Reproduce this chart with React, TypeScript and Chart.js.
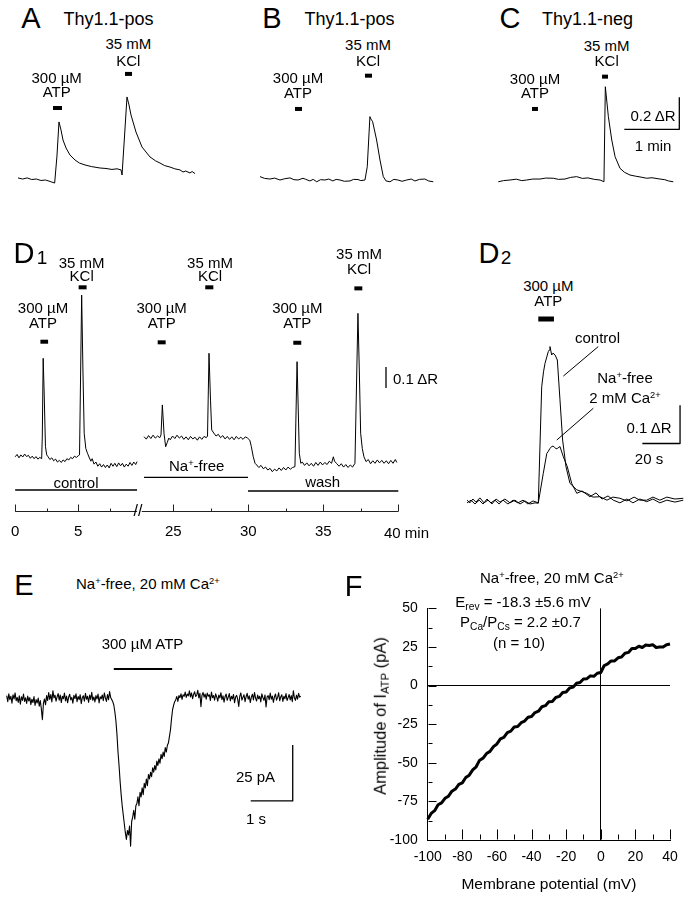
import React, { useEffect, useRef } from "react";
import { Chart, registerables } from "chart.js";
Chart.register(...registerables);

const FONT = "'Liberation Sans', Arial, Helvetica, sans-serif";
Chart.defaults.font.family = FONT;
Chart.defaults.color = "#000";

type P = [number, number];
type Stim = [number, number, number]; // start, end, level

// ---------------- Panel A/B/C (time s, ΔR) ----------------
const traceA: P[] = [[0,0.013],[5,0.006],[10,0.013],[15,0.003],[20,0.006],[25,-0.003],[30,0.0],[35,-0.009],[40,-0.019],[42.5,0.15],[44.7,0.363],[46.9,0.313],[49.1,0.25],[52.4,0.2],[56.7,0.156],[62.2,0.125],[67,0.106],[73.1,0.094],[80,0.084],[89.5,0.075],[96,0.072],[102.5,0.066],[108,0.07],[112.4,0.063],[113.5,0.031],[116.5,0.3],[118.9,0.519],[121.1,0.469],[123.3,0.406],[128.7,0.3],[135.3,0.206],[144,0.144],[150,0.12],[154.9,0.106],[160,0.09],[165.8,0.081],[171,0.07],[176.7,0.063],[180,0.05],[183,0.056],[187.6,0.044],[190,0.053],[193.1,0.04]];
const atpA: Stim = [38.2, 48.0, 0.45];
const kclA: Stim = [116.7, 124.4, 0.663];

const traceB: P[] = [[0,0.021],[5,0.01],[10.9,0.006],[16,0.012],[21.8,0],[27,0.008],[32.7,0.013],[37,0.002],[41.5,0],[46.9,0.011],[50,0.004],[54.5,-0.006],[58,0.004],[61.9,-0.011],[66,0.002],[70.9,0],[75,0.006],[79.6,-0.006],[83,0.004],[87.3,0],[92,-0.008],[98.2,-0.006],[102,0.004],[106.9,0.003],[110,-0.004],[114.5,0],[117,0.083],[119.9,0.396],[121,0.381],[122.9,0.364],[127.2,0.25],[130.9,0.125],[134.5,0.021],[137.5,-0.006],[141.8,-0.011],[146,0.004],[150.5,0],[155,-0.008],[160,0],[165,0.006],[169,-0.006],[174,0.004],[179.9,0.006],[184,-0.006],[189,-0.011]];
const atpB: Stim = [38.2, 45.8, 0.444];
const kclB: Stim = [114.5, 122.2, 0.652];

const traceC: P[] = [[0.3,-0.011],[6,-0.004],[13.1,0],[20,0.005],[26,-0.004],[31.3,0],[38,0.006],[45.8,0.006],[52,0.012],[60.3,0.011],[66,0.004],[73.1,0.006],[79,0.016],[85.8,0.021],[92,0.01],[98.2,0.013],[105,0.004],[111.3,0],[115.6,-0.011],[117.1,0.583],[120.4,0.396],[124.1,0.25],[127.7,0.146],[133.1,0.073],[138,0.048],[144,0.031],[150,0.024],[156,0.018],[162.2,0.011],[168,0.014],[176.7,0.006],[182,0.002],[186,-0.006],[191.2,-0.011]];
const atpC: Stim = [37.1, 43.6, 0.444];
const kclC: Stim = [113.5, 120.0, 0.646];
const scaleBarC: P[] = [[137.8, 0.317], [197.8, 0.317], [197.8, 0.517]]; // 1 min, 0.2 ΔR

// ---------------- Panel D1 (time min, ΔR) ----------------
const traceD1Control: P[] = [[0,0.001],[0.15,0.012],[0.3,-0.004],[0.45,0.01],[0.6,0.0],[0.75,0.014],[0.9,0.002],[1.05,0.008],[1.2,-0.006],[1.35,0.004],[1.5,-0.008],[1.65,0.002],[1.8,-0.01],[1.95,-0.002],[2.1,-0.008],[2.15,0.1],[2.22,0.47],[2.3,0.3],[2.4,0.049],[2.5,0.01],[2.61,0.001],[2.75,-0.012],[2.9,-0.004],[3.05,-0.018],[3.2,-0.01],[3.35,-0.024],[3.5,-0.016],[3.65,-0.026],[3.8,-0.014],[3.95,-0.022],[4.1,-0.008],[4.25,-0.014],[4.4,-0.002],[4.55,-0.008],[4.7,0.004],[4.85,-0.002],[5.0,0.006],[5.1,0.01],[5.27,0.771],[5.37,0.414],[5.47,0.113],[5.6,0.04],[5.73,0.018],[5.85,0.0],[6.0,-0.02],[6.1,-0.008],[6.25,-0.034],[6.4,-0.024],[6.55,-0.044],[6.7,-0.032],[6.85,-0.048],[7.0,-0.036],[7.15,-0.05],[7.3,-0.038],[7.45,-0.052],[7.6,-0.03],[7.75,-0.044],[7.9,-0.03],[8.05,-0.046],[8.2,-0.028],[8.35,-0.042],[8.5,-0.03],[8.65,-0.048],[8.8,-0.034],[8.95,-0.044],[9.1,-0.026],[9.25,-0.04],[9.4,-0.024],[9.55,-0.036],[9.66,-0.022]];
const traceD1NaWash: P[] = [[23.05,0.097],[23.2,0.085],[23.35,0.102],[23.5,0.088],[23.65,0.104],[23.8,0.09],[23.95,0.1],[24.1,0.092],[24.18,0.105],[24.27,0.248],[24.38,0.113],[24.49,0.049],[24.6,0.07],[24.7,0.09],[24.8,0.082],[24.95,0.1],[25.1,0.088],[25.25,0.104],[25.4,0.09],[25.55,0.1],[25.7,0.084],[25.85,0.096],[26.0,0.082],[26.15,0.098],[26.3,0.086],[26.45,0.094],[26.6,0.08],[26.75,0.096],[26.9,0.084],[27.05,0.098],[27.2,0.092],[27.28,0.1],[27.38,0.494],[27.48,0.271],[27.56,0.129],[27.7,0.114],[27.85,0.1],[28.0,0.108],[28.15,0.092],[28.3,0.102],[28.45,0.086],[28.6,0.098],[28.75,0.084],[28.9,0.096],[29.05,0.082],[29.2,0.098],[29.35,0.086],[29.5,0.094],[29.65,0.084],[29.8,0.096],[29.95,0.09],[30.1,0.08],[30.2,0.05],[30.33,0.001],[30.45,-0.03],[30.56,-0.038],[30.7,-0.05],[30.85,-0.04],[31.0,-0.056],[31.15,-0.048],[31.3,-0.062],[31.45,-0.054],[31.6,-0.07],[31.75,-0.058],[31.9,-0.066],[32.05,-0.052],[32.2,-0.064],[32.35,-0.05],[32.5,-0.062],[32.65,-0.048],[32.8,-0.058],[32.95,-0.05],[33.11,-0.046],[33.25,0.454],[33.33,0.224],[33.4,0.018],[33.5,-0.03],[33.6,-0.024],[33.75,-0.04],[33.9,-0.028],[34.05,-0.042],[34.2,-0.03],[34.35,-0.044],[34.5,-0.026],[34.65,-0.04],[34.8,-0.024],[34.95,-0.038],[35.1,-0.026],[35.25,-0.036],[35.4,-0.02],[35.55,-0.03],[35.67,0.001],[35.75,-0.02],[35.9,-0.032],[36.05,-0.044],[36.2,-0.032],[36.35,-0.048],[36.5,-0.036],[36.65,-0.05],[36.8,-0.038],[36.95,-0.048],[37.11,-0.03],[37.31,0.684],[37.4,0.414],[37.49,0.113],[37.6,0.04],[37.71,0.001],[37.85,-0.022],[38.0,-0.012],[38.15,-0.032],[38.3,-0.018],[38.45,-0.03],[38.6,-0.014],[38.75,-0.028],[38.9,-0.016],[39.05,-0.03],[39.2,-0.018],[39.35,-0.032],[39.5,-0.016],[39.65,-0.03],[39.8,-0.012],[39.9,-0.026]];
const atpD1Control: Stim = [2.0, 2.61, 0.549];
const kclD1Control: Stim = [5.03, 5.66, 0.808];
const atpD1NaFree: Stim = [23.96, 24.49, 0.546];
const kclD1NaFree: Stim = [27.13, 27.67, 0.808];
const atpD1Wash: Stim = [33.0, 33.53, 0.544];
const kclD1Wash: Stim = [37.07, 37.6, 0.803];
const condControl: Stim = [0, 9.66, -0.157];
const condNaFree: Stim = [23.05, 29.98, -0.097];
const condWash: Stim = [29.98, 40.0, -0.162];
const scaleBarD1: P[] = [[39.18, 0.329], [39.18, 0.429]]; // 0.1 ΔR
const d1LeftLabels = [0, 5];
const d1LeftMajor = [0, 5];
const d1LeftMinor = [2.5, 7.5];
const d1RightLabels = [25, 30, 35];
const d1RightMajor = [25, 30, 35, 40];
const d1RightMinor = [27.5, 32.5, 37.5];

// ---------------- Panel D2 (time s, ΔR) ----------------
const traceD2Control: P[] = [[-37.8,0.004],[-36.3,-0.003],[-34.7,0.007],[-33.1,-0.001],[-31.0,0.010],[-28.8,-0.003],[-26.7,0.004],[-24.6,-0.006],[-22.4,0.007],[-20.3,-0.001],[-17.7,0.007],[-15.0,-0.003],[-12.4,0.004],[-9.7,-0.006],[-7.1,0.002],[-4.4,-0.006],[-1.75,-0.003],[0,-0.004],[1.8,0.3],[2.76,0.339],[3.55,0.361],[5.3,0.392],[5.8,0.396],[6.2,0.405],[7.1,0.383],[7.8,0.388],[8.9,0.383],[10.1,0.37],[11.5,0.266],[12.9,0.161],[14.7,0.091],[16.8,0.048],[20.4,0.031],[25.7,0.022],[29.0,0.012],[32.7,0.013],[36.4,0.004],[39.6,0.012],[43.3,0.009],[47.0,0.002],[50.8,0.012],[53.9,0.004],[57.5,0.004],[60.8,0.012],[64.5,0.004],[68.2,0.012],[72.5,0.007],[76.9,0.009]];
const traceD2NaFree: P[] = [[-37.8,-0.003],[-35.7,0.004],[-33.6,-0.006],[-31.4,0.004],[-29.3,-0.006],[-27.2,0.007],[-25.1,-0.003],[-23.0,0.004],[-20.8,-0.006],[-18.7,0.004],[-16.1,-0.006],[-13.4,0.004],[-10.8,-0.003],[-8.1,0.004],[-5.5,-0.006],[-2.8,0.002],[0,-0.003],[2.65,0.074],[4.5,0.126],[5.1,0.13],[6.2,0.139],[7.3,0.145],[8.3,0.144],[9.4,0.138],[10.1,0.139],[11.5,0.144],[13.3,0.117],[15.4,0.091],[17.7,0.048],[20.4,0.022],[23.2,0.028],[27.4,0.013],[30.6,0.023],[33.8,0.007],[37.0,0.015],[39.8,0.004],[43.3,-0.003],[47.0,0.007],[50.2,-0.003],[53.9,0.007],[57.5,0],[60.8,0.007],[64.5,-0.003],[68.2,0.004],[72.5,-0.001],[76.9,0.004]];
const atpD2: Stim = [0, 8.3, 0.477];
const scaleBarD2: P[] = [[55.2, 0.152], [75.2, 0.152], [75.2, 0.252]]; // 20 s, 0.1 ΔR
const pointerControl: P[] = [[13.3, 0.328], [31.8, 0.405]];
const pointerNaFree: P[] = [[9.8, 0.161], [29.2, 0.244]];

// ---------------- Panel E (time s, pA), sampled every E_DT s ----------------
const E_DT = 0.025;
const currentE: number[] = [
  // 0 - 2.475 s
  1.2, -1.5, 2.0, -0.6, 0.9, -2.2, 1.6, -0.3, 2.4, -1.1,
  0.4, -1.8, 1.1, -2.6, 0.7, -0.9, 1.9, -1.4, 0.2, -2.3,
  1.0, -1.2, 0.3, -2.8, -0.4, -1.9, 0.8, -3.2, -0.6, -2.1,
  0.1, -3.5, -1.0, -4.8, -9.5, -2.2, -0.3, -2.9, 1.2, -1.0,
  2.6, -0.5, 1.7, -1.6, 3.4, 0.2, 1.4, -1.3, 0.6, 2.1,
  -0.8, 1.5, -1.9, 0.9, -0.2, 2.3, -1.2, 1.0, -2.0, 0.5,
  1.8, -0.7, 0.4, -2.2, 1.3, -0.1, 2.0, -1.5, 0.8, -0.6,
  1.6, -2.4, 0.3, 1.1, -1.3, 2.2, -0.4, 0.9, -1.8, 1.4,
  -0.5, 2.7, -0.9, 0.6, -1.6, 1.2, -0.3, 1.9, -2.1, 0.7,
  -0.2, 1.5, -1.1, 2.4, 0.1, -1.4, 1.7, -0.6, 3.0, 0.4,
  // 2.5 - 4.0 s (response)
  -0.5, -1.5, -3, -6, -10, -16, -24, -30, -37, -43,
  -48, -52, -56, -60, -63, -59, -61, -57, -66, -55,
  -53, -50, -54, -48, -47, -44, -48, -42, -44, -40,
  -43, -38, -40, -36, -39, -34, -36, -33, -35, -31,
  -33, -30, -32, -28, -30, -27, -29, -25, -27, -24,
  -26, -22, -24, -21, -20, -17, -14, -9, -5, -3, -1.5,
  // 4.025 - 7.0 s
  -0.6, 0.8, -1.4, 1.2, 0.3, 2.0, -0.5, 1.6, 0.9, 2.8,
  0.4, 1.9, 1.1, 3.3, 0.6, 2.4, -0.2, 1.7, 2.9, 0.8,
  1.5, 3.6, 0.2, 2.2, -3.8, 1.4, 2.6, 0.5, 1.9, -0.4,
  2.3, 0.9, 1.6, -1.0, 2.8, 0.3, 1.2, -0.8, 2.0, 0.6,
  -1.3, 1.4, 0.2, 2.5, -0.6, 1.1, -1.7, 0.8, 1.9, -0.9,
  0.5, 2.1, -1.2, 0.9, -0.3, 1.7, -2.0, 0.6, 1.3, -0.5,
  -3.6, 1.0, 2.4, -0.8, 0.4, 1.6, -1.5, 0.7, 2.2, -0.4,
  1.1, -1.9, 0.5, 1.8, -0.7, 2.6, 0.1, -1.2, 1.4, -0.2,
  0.9, -1.6, 2.0, 0.3, -0.9, 1.5, -3.9, 0.6, 1.2, -0.6,
  2.3, -0.4, 1.0, -1.8, 0.7, 1.9, -0.8, 0.4, 2.5, -1.1,
  0.6, 1.6, -1.4, 0.9, -0.2, 2.1, -1.0, 0.3, 1.7, -0.7,
  1.2, -1.5, 3.4, 0.2, -0.9, 1.4, -0.4, 2.2, 0.5, 1.0,
];
const atpE: Stim = [2.55, 3.94, 13.1];
const scaleBarE: P[] = [[5.81, -45.8], [6.81, -45.8], [6.81, -20.8]]; // 1 s, 25 pA

// ---------------- Panel F (mV, pA), sampled every F_DV mV ----------------
const F_V0 = -100;
const F_DV = 2;
const currentF: number[] = [
  -86.5, -82.8, -81.0, -77.2, -76.0, -73.0, -71.6, -68.4, -67.0, -64.0,
  -63.0, -59.5, -58.0, -54.6, -52.6, -48.3, -47.0, -44.0, -42.6, -39.5,
  -37.8, -34.5, -33.6, -30.5, -29.5, -26.8, -26.5, -24.0, -23.0, -20.5,
  -20.0, -17.5, -16.6, -13.7, -13.0, -10.5, -10.3, -7.7, -7.0, -4.5,
  -4.1, -1.5, -1.0, 1.5, 2.0, 4.3, 4.5, 6.3, 6.0, 8.0,
  8.5, 13.0, 14.0, 16.0, 16.0, 18.0, 18.5, 21.0, 21.5, 24.0,
  24.0, 25.5, 24.7, 26.3, 26.0, 26.5, 24.7, 25.0, 25.0, 26.5, 27.0,
];
const fXLabels = [-100, -80, -60, -40, -20, 0, 20, 40];
const fXMajor = [-80, -60, -40, -20, 0, 20, 40];
const fXMinor = [-90, -70, -50, -30, -10, 10, 30];
const fYLabels = [-100, -75, -50, -25, 0, 25, 50];
const fYMajor = [-75, -50, -25, 0, 25, 50];
const fYMinor = [-87.5, -62.5, -37.5, -12.5, 12.5, 37.5];

// ---------------- helpers ----------------
const xy = (pts: P[]) => pts.map(([x, y]) => ({ x, y }));
const line = (pts: P[], w = 1) => ({
  data: xy(pts), borderColor: "#000", borderWidth: w, pointRadius: 0, tension: 0,
  clip: false as any, borderJoinStyle: "round" as const, fill: false,
});
const stim = (s: Stim, w = 4) => ({
  data: [{ x: s[0], y: s[2] }, { x: s[1], y: s[2] }], borderColor: "#000", borderWidth: w,
  pointRadius: 0, clip: false as any, borderCapStyle: "butt" as const, fill: false,
});
const rangeX = (startPx: number, len: number, originPx: number, ppu: number, v0 = 0): [number, number] =>
  [v0 - (originPx - startPx) / ppu, v0 + (startPx + len - originPx) / ppu];
const rangeY = (topPx: number, len: number, originPx: number, ppu: number, v0 = 0): [number, number] =>
  [v0 - (topPx + len - originPx) / ppu, v0 + (originPx - topPx) / ppu];

const baseOpts = () => ({
  animation: false as const, responsive: false, devicePixelRatio: 1, events: [] as any[],
  layout: { padding: 0 },
  plugins: { legend: { display: false }, tooltip: { enabled: false } },
});

function traceConfig(datasets: any[], xr: [number, number], yr: [number, number]) {
  return {
    type: "line" as const,
    data: { datasets },
    options: {
      ...baseOpts(),
      scales: {
        x: { type: "linear" as const, min: xr[0], max: xr[1], display: false },
        y: { type: "linear" as const, min: yr[0], max: yr[1], display: false },
      },
    },
  };
}

const timeAxisPlugin = (from: number, to: number, major: number[], minor: number[]) => ({
  id: "timeAxis",
  afterDraw(chart: any) {
    const { ctx, chartArea, scales } = chart;
    const x = scales.x;
    const y0 = Math.round(chartArea.bottom) - 0.5;
    ctx.save();
    ctx.strokeStyle = "#222";
    ctx.lineWidth = 1;
    ctx.beginPath();
    ctx.moveTo(x.getPixelForValue(from), y0);
    ctx.lineTo(x.getPixelForValue(to), y0);
    major.forEach((v) => { const px = Math.round(x.getPixelForValue(v)) + 0.5; ctx.moveTo(px, y0); ctx.lineTo(px, y0 - 7); });
    minor.forEach((v) => { const px = Math.round(x.getPixelForValue(v)) + 0.5; ctx.moveTo(px, y0); ctx.lineTo(px, y0 - 3); });
    ctx.stroke();
    ctx.restore();
  },
});

function d1Config(datasets: any[], xr: [number, number], yr: [number, number], labels: number[], plugin: any) {
  return {
    type: "line" as const,
    data: { datasets },
    options: {
      ...baseOpts(),
      scales: {
        x: {
          type: "linear" as const, min: xr[0], max: xr[1], display: true, position: "bottom" as const,
          grid: { display: false, drawTicks: false }, border: { display: false },
          ticks: { font: { size: 15, family: FONT }, color: "#000", padding: 11, maxRotation: 0, autoSkip: false },
          afterBuildTicks: (s: any) => { s.ticks = labels.map((v) => ({ value: v })); },
          afterFit: (s: any) => { s.height = 28.3; },
        },
        y: { type: "linear" as const, min: yr[0], max: yr[1], display: false },
      },
    },
    plugins: [plugin],
  };
}

const insideTicks = {
  id: "insideTicks",
  afterDraw(chart: any) {
    const { ctx, chartArea, scales } = chart;
    const { x, y } = scales;
    const b = Math.round(chartArea.bottom) - 0.5;
    const l = Math.round(chartArea.left) + 0.5;
    ctx.save();
    ctx.strokeStyle = "#000";
    ctx.lineWidth = 1;
    ctx.beginPath();
    fXMajor.forEach((v) => { const px = Math.round(x.getPixelForValue(v)) + 0.5; ctx.moveTo(px, b); ctx.lineTo(px, b - 10); });
    fXMinor.forEach((v) => { const px = Math.round(x.getPixelForValue(v)) + 0.5; ctx.moveTo(px, b); ctx.lineTo(px, b - 5); });
    fYMajor.forEach((v) => { const py = Math.round(y.getPixelForValue(v)) + 0.5; ctx.moveTo(l, py); ctx.lineTo(l + 8, py); });
    fYMinor.forEach((v) => { const py = Math.round(y.getPixelForValue(v)) + 0.5; ctx.moveTo(l, py); ctx.lineTo(l + 4, py); });
    ctx.stroke();
    ctx.restore();
  },
};

function fConfig() {
  const pts: P[] = currentF.map((v, i) => [F_V0 + i * F_DV, v]);
  const zeroColor = (c: any) => (c.tick && c.tick.value === 0 ? "#000" : "rgba(0,0,0,0)");
  return {
    type: "line" as const,
    data: { datasets: [line(pts, 3)] },
    options: {
      ...baseOpts(),
      layout: { padding: { left: 0, right: 23, top: 10, bottom: 0 } },
      scales: {
        x: {
          type: "linear" as const, min: -100, max: 40,
          grid: { drawTicks: false, color: zeroColor, lineWidth: 1 },
          border: { display: true, color: "#000", width: 1 },
          ticks: { font: { size: 14, family: FONT }, color: "#000", padding: 9, maxRotation: 0, autoSkip: false },
          afterBuildTicks: (s: any) => { s.ticks = fXLabels.map((v) => ({ value: v })); },
          title: { display: true, text: "Membrane potential (mV)", font: { size: 15.5, family: FONT }, color: "#000", padding: { top: 0, bottom: 5 } },
          afterFit: (s: any) => { s.height = 59; },
        },
        y: {
          type: "linear" as const, min: -100, max: 50,
          grid: { drawTicks: false, color: zeroColor, lineWidth: 1 },
          border: { display: true, color: "#000", width: 1 },
          ticks: { font: { size: 14, family: FONT }, color: "#000", padding: 10, autoSkip: false },
          afterBuildTicks: (s: any) => { s.ticks = fYLabels.map((v) => ({ value: v })); },
          afterFit: (s: any) => { s.width = 97.7; },
        },
      },
    },
    plugins: [insideTicks],
  };
}

// ---------------- components ----------------
function ChartCanvas({ left, top, width, height, make }: { left: number; top: number; width: number; height: number; make: () => any }) {
  const ref = useRef<HTMLCanvasElement>(null);
  useEffect(() => {
    const c = new Chart(ref.current as HTMLCanvasElement, make());
    return () => c.destroy();
  }, []);
  return <canvas ref={ref} width={width} height={height} style={{ position: "absolute", left, top, width, height }} />;
}

function T({ x, y, s = 15, left = false, children }: { x: number; y: number; s?: number; left?: boolean; children: any }) {
  return (
    <div style={{
      position: "absolute", left: x, top: y, transform: left ? "translate(0,-50%)" : "translate(-50%,-50%)",
      fontSize: s, lineHeight: 1, whiteSpace: "nowrap", fontFamily: FONT, color: "#000",
    }}>{children}</div>
  );
}
const Sup = ({ children }: { children: any }) => <span style={{ fontSize: "0.62em", position: "relative", top: "-0.55em" }}>{children}</span>;
const Sub = ({ children }: { children: any }) => <span style={{ fontSize: "0.68em", position: "relative", top: "0.3em" }}>{children}</span>;

const S_PPU = 55 / 60; // px per s in A-C
const R_PPU = 160; // px per ΔR in A-C

export default function App() {
  return (
    <div style={{ position: "absolute", left: 0, top: 0, width: 693, height: 899, background: "#fff", overflow: "hidden", fontFamily: FONT }}>
      {/* A */}
      <ChartCanvas left={0} top={60} width={230} height={130}
        make={() => traceConfig([line(traceA), stim(atpA), stim(kclA)], rangeX(0, 230, 18, S_PPU), rangeY(60, 130, 180, R_PPU))} />
      {/* B */}
      <ChartCanvas left={230} top={60} width={230} height={130}
        make={() => traceConfig([line(traceB), stim(atpB), stim(kclB)], rangeX(230, 230, 260, S_PPU), rangeY(60, 130, 180, R_PPU))} />
      {/* C */}
      <ChartCanvas left={460} top={60} width={233} height={130}
        make={() => traceConfig([line(traceC), stim(atpC), stim(kclC), line(scaleBarC, 1.3)], rangeX(460, 233, 498, S_PPU), rangeY(60, 130, 180, R_PPU))} />
      {/* D1 left */}
      <ChartCanvas left={0} top={240} width={145} height={300}
        make={() => d1Config([line(traceD1Control), stim(atpD1Control), stim(kclD1Control), stim(condControl, 1.4)],
          rangeX(0, 145, 13.3, 12.8), rangeY(240, 271.7, 457, 210), d1LeftLabels, timeAxisPlugin(0, 9.66, d1LeftMajor, d1LeftMinor))} />
      {/* D1 right */}
      <ChartCanvas left={140} top={240} width={300} height={300}
        make={() => d1Config([line(traceD1NaWash), stim(atpD1NaFree), stim(kclD1NaFree), stim(atpD1Wash), stim(kclD1Wash),
          stim(condNaFree, 1.4), stim(condWash, 1.4), line(scaleBarD1, 1.3)],
          rangeX(140, 300, 173.3, 15, 25), rangeY(240, 271.7, 457, 210), d1RightLabels, timeAxisPlugin(22.9, 40, d1RightMajor, d1RightMinor))} />
      {/* D2 */}
      <ChartCanvas left={460} top={300} width={233} height={215}
        make={() => traceConfig([line(traceD2Control), line(traceD2NaFree), stim(atpD2, 5), line(scaleBarD2, 1.3), line(pointerControl), line(pointerNaFree)],
          rangeX(460, 233, 538.3, 1.885), rangeY(300, 215, 501.7, 383))} />
      {/* E */}
      <ChartCanvas left={0} top={650} width={330} height={210}
        make={() => traceConfig([line(currentE.map((v, i) => [i * E_DT, v] as P), 1.1), stim(atpE, 2), line(scaleBarE, 1.3)],
          rangeX(0, 330, 6.7, 42), rangeY(650, 210, 698.3, 2.24))} />
      {/* F */}
      <ChartCanvas left={330} top={590} width={363} height={309} make={fConfig} />

      {/* ---- text ---- */}
      <T x={31} y={18} s={29}>A</T>
      <T x={108.5} y={19} s={18}>Thy1.1-pos</T>
      <T x={128.3} y={43.3}>35 mM</T><T x={128.3} y={60}>KCl</T>
      <T x={56.7} y={76.7}>300 µM</T><T x={56.7} y={91}>ATP</T>

      <T x={272} y={18} s={29}>B</T>
      <T x={349.5} y={19} s={18}>Thy1.1-pos</T>
      <T x={368} y={44}>35 mM</T><T x={368} y={60}>KCl</T>
      <T x={298} y={77}>300 µM</T><T x={298} y={92}>ATP</T>

      <T x={510} y={18} s={29}>C</T>
      <T x={587.5} y={19} s={18}>Thy1.1-neg</T>
      <T x={606.7} y={45}>35 mM</T><T x={606.7} y={60}>KCl</T>
      <T x={535} y={78}>300 µM</T><T x={535} y={92}>ATP</T>
      <T x={653} y={115}>0.2 ΔR</T>
      <T x={653} y={145}>1 min</T>

      <T x={24} y={253} s={29}>D</T><T x={42} y={257} s={19}>1</T>
      <T x={43} y={306.7}>300 µM</T><T x={43} y={321.7}>ATP</T>
      <T x={81.7} y={261.7}>35 mM</T><T x={81.7} y={275}>KCl</T>
      <T x={161.7} y={306.7}>300 µM</T><T x={161.7} y={321.7}>ATP</T>
      <T x={210} y={261.7}>35 mM</T><T x={210} y={275}>KCl</T>
      <T x={297.3} y={306.7}>300 µM</T><T x={297.3} y={321.7}>ATP</T>
      <T x={359} y={253.3}>35 mM</T><T x={359} y={268.3}>KCl</T>
      <T x={76} y={481.7}>control</T>
      <T x={196.7} y={466}>Na<Sup>+</Sup>-free</T>
      <T x={322.7} y={481}>wash</T>
      <T x={415.5} y={378}>0.1 ΔR</T>
      <T x={138} y={511} s={16}>//</T>
      <T x={384} y={532} left>40 min</T>

      <T x={489} y={253} s={29}>D</T><T x={506} y={257} s={19}>2</T>
      <T x={548.3} y={285}>300 µM</T><T x={548.3} y={300}>ATP</T>
      <T x={597.5} y={336.7}>control</T>
      <T x={625} y={378}>Na<Sup>+</Sup>-free</T>
      <T x={625} y={398}>2 mM Ca<Sup>2+</Sup></T>
      <T x={649} y={426.7}>0.1 ΔR</T>
      <T x={649} y={458.3}>20 s</T>

      <T x={24} y={585} s={29}>E</T>
      <T x={76} y={584} left>Na<Sup>+</Sup>-free, 20 mM Ca<Sup>2+</Sup></T>
      <T x={142.5} y={643.3}>300 µM ATP</T>
      <T x={255.5} y={775.7}>25 pA</T>
      <T x={256} y={818.3}>1 s</T>

      <T x={353.5} y={586} s={29}>F</T>
      <T x={480} y={578} left>Na<Sup>+</Sup>-free, 20 mM Ca<Sup>2+</Sup></T>
      <T x={523} y={602}>E<Sub>rev</Sub> = -18.3 ±5.6 mV</T>
      <T x={520.5} y={622}>P<Sub>Ca</Sub>/P<Sub>Cs</Sub> = 2.2 ±0.7</T>
      <T x={519} y={642}>(n = 10)</T>
      <div style={{ position: "absolute", left: 380, top: 716, transform: "translate(-50%,-50%) rotate(-90deg)", fontSize: 16.5, lineHeight: 1, whiteSpace: "nowrap", fontFamily: FONT, color: "#000" }}>
        Amplitude of I<Sub>ATP</Sub> (pA)
      </div>
    </div>
  );
}
